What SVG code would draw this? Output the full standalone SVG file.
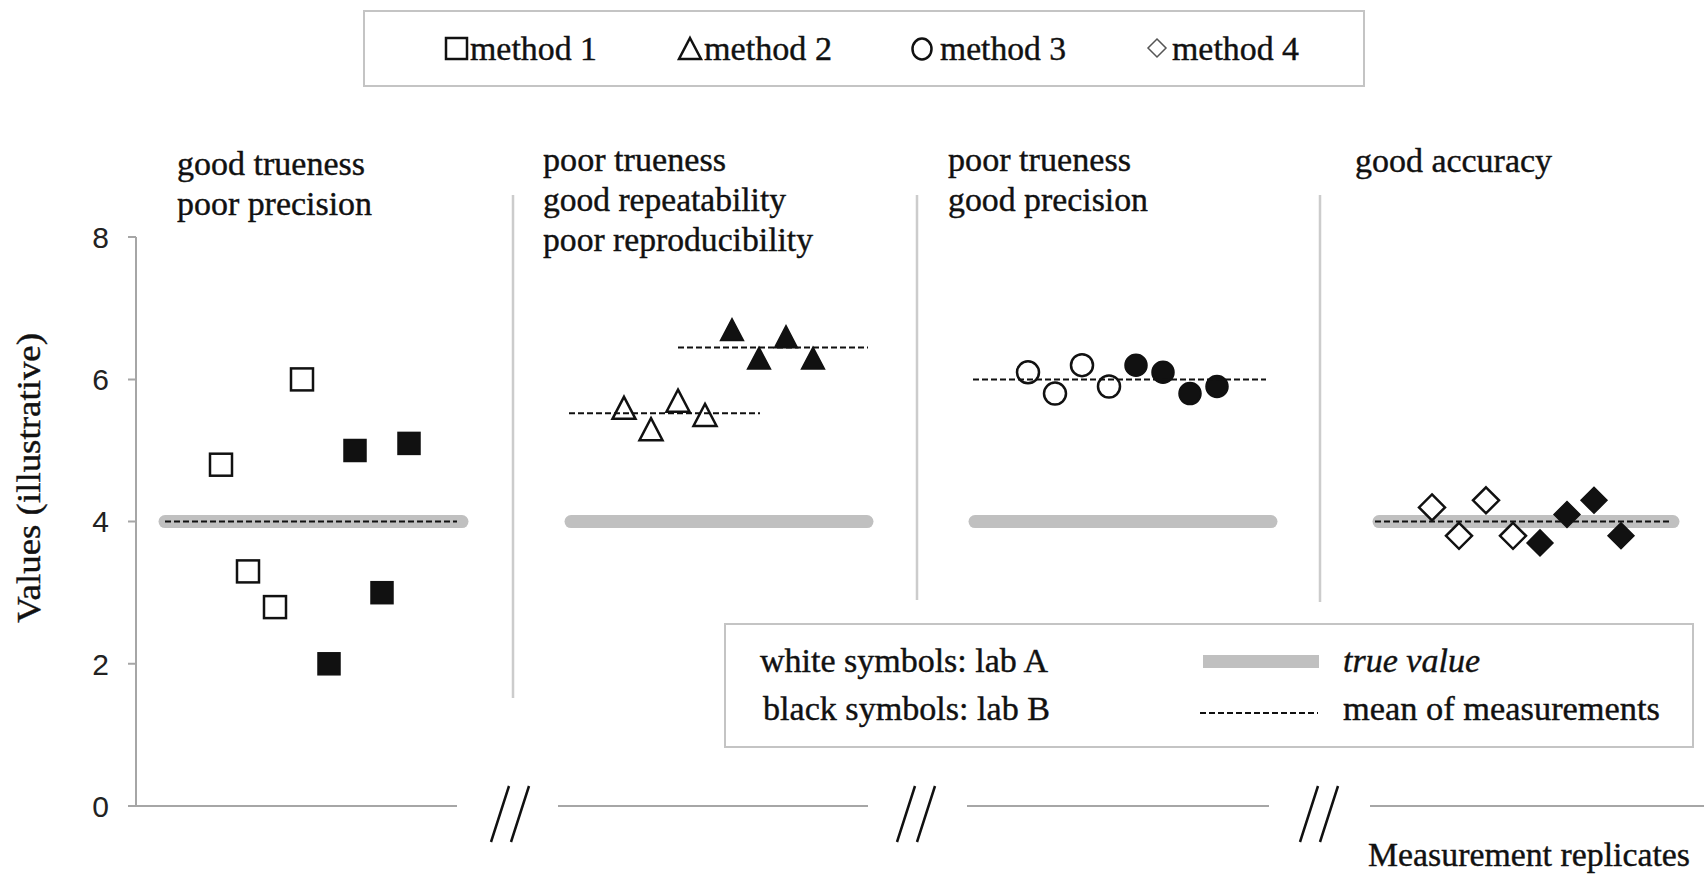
<svg xmlns="http://www.w3.org/2000/svg" width="1708" height="876" viewBox="0 0 1708 876">
  <style>
    text { font-family: "Liberation Serif", "Times New Roman", serif; font-size: 34px; fill: #111; stroke: #111; stroke-width: 0.4; }
    .tick { font-family: "Liberation Sans", Arial, sans-serif; font-size: 30px; text-anchor: end; fill: #222; stroke: none; }
    .axis { stroke: #a6a6a6; stroke-width: 2; fill: none; }
    .sep { stroke: #cccccc; stroke-width: 2.5; fill: none; }
    .brk { stroke: #111; stroke-width: 2.5; fill: none; }
    .truth { stroke: #c0c0c0; stroke-width: 13; stroke-linecap: round; fill: none; }
    .mean { stroke: #111; stroke-width: 2; stroke-dasharray: 6 3; fill: none; }
    .labA { fill: #fff; stroke: #111; stroke-width: 2.5; }
    .labB { fill: #111; stroke: #111; stroke-width: 1.5; }
    .box { fill: #fff; stroke: #c4c4c4; stroke-width: 2; }
  </style>
  <defs>
    <rect id="sq" x="-11" y="-11" width="22" height="22"/>
    <polygon id="tri" points="0,-11 11.5,11 -11.5,11"/>
    <circle id="circ" r="11"/>
    <polygon id="dia" points="0,-13 13,0 0,13 -13,0"/>
  </defs>

  <rect width="1708" height="876" fill="#fff"/>

  <!-- method legend -->
  <g id="legend-methods">
    <rect class="box" x="364" y="11" width="1000" height="75"/>
    <rect x="446" y="38" width="21" height="21" fill="#fff" stroke="#111" stroke-width="2.5"/>
    <text x="470" y="60" textLength="127" lengthAdjust="spacingAndGlyphs">method 1</text>
    <polygon points="690,38 701,59 679,59" fill="#fff" stroke="#111" stroke-width="2.5"/>
    <text x="704" y="60" textLength="128" lengthAdjust="spacingAndGlyphs">method 2</text>
    <ellipse cx="922" cy="49" rx="9.5" ry="10.5" fill="#fff" stroke="#111" stroke-width="2.5"/>
    <text x="940" y="60" textLength="126" lengthAdjust="spacingAndGlyphs">method 3</text>
    <polygon points="1157,39 1166,48 1157,57 1148,48" fill="#fff" stroke="#555" stroke-width="1.5"/>
    <text x="1172" y="60" textLength="127" lengthAdjust="spacingAndGlyphs">method 4</text>
  </g>

  <!-- axes and scale breaks -->
  <g id="axes">
    <line class="axis" x1="136" y1="237" x2="136" y2="806"/>
    <path class="axis" d="M128 237H136M128 379.4H136M128 521.6H136M128 663.8H136"/>
    <text class="tick" x="109" y="248">8</text>
    <text class="tick" x="109" y="390">6</text>
    <text class="tick" x="109" y="532">4</text>
    <text class="tick" x="109" y="675">2</text>
    <text class="tick" x="109" y="817">0</text>
    <text transform="translate(40 478) rotate(-90)" text-anchor="middle" textLength="290" lengthAdjust="spacingAndGlyphs">Values (illustrative)</text>
    <path class="axis" d="M128 806H457M558 806H868M967 806H1269M1370 806H1704"/>
    <path class="brk" d="M491 842L509 786M511 842L529 786"/>
    <path class="brk" d="M897 842L915 786M917 842L935 786"/>
    <path class="brk" d="M1300 842L1318 786M1320 842L1338 786"/>
    <text x="1368" y="866" textLength="322" lengthAdjust="spacingAndGlyphs">Measurement replicates</text>
  </g>

  <!-- panel separators -->
  <g id="separators">
    <line class="sep" x1="513" y1="195" x2="513" y2="698"/>
    <line class="sep" x1="917" y1="195" x2="917" y2="600"/>
    <line class="sep" x1="1320" y1="195" x2="1320" y2="602"/>
  </g>

  <!-- panel 1: squares -->
  <g id="panel-1">
    <text x="177" y="175" textLength="188" lengthAdjust="spacingAndGlyphs">good trueness</text>
    <text x="177" y="215" textLength="195" lengthAdjust="spacingAndGlyphs">poor precision</text>
    <line class="truth" x1="165" y1="521.6" x2="462" y2="521.6"/>
    <use href="#sq" class="labA" x="221" y="464.7"/>
    <use href="#sq" class="labA" x="248" y="571.4"/>
    <use href="#sq" class="labA" x="275" y="607.1"/>
    <use href="#sq" class="labA" x="302" y="379.4"/>
    <use href="#sq" class="labB" x="329" y="663.8"/>
    <use href="#sq" class="labB" x="355" y="450.5"/>
    <use href="#sq" class="labB" x="382" y="592.7"/>
    <use href="#sq" class="labB" x="409" y="443.4"/>
    <line class="mean" x1="165" y1="521.6" x2="457" y2="521.6"/>
  </g>

  <!-- panel 2: triangles -->
  <g id="panel-2">
    <text x="543" y="171" textLength="183" lengthAdjust="spacingAndGlyphs">poor trueness</text>
    <text x="543" y="211" textLength="243" lengthAdjust="spacingAndGlyphs">good repeatability</text>
    <text x="543" y="251" textLength="270" lengthAdjust="spacingAndGlyphs">poor reproducibility</text>
    <line class="truth" x1="571" y1="521.6" x2="867" y2="521.6"/>
    <use href="#tri" class="labA" x="624" y="407.8"/>
    <use href="#tri" class="labA" x="651" y="429.2"/>
    <use href="#tri" class="labA" x="678" y="400.7"/>
    <use href="#tri" class="labA" x="705" y="414.9"/>
    <use href="#tri" class="labB" x="732" y="329.6"/>
    <use href="#tri" class="labB" x="759" y="358.1"/>
    <use href="#tri" class="labB" x="786" y="336.7"/>
    <use href="#tri" class="labB" x="813" y="358.1"/>
    <line class="mean" x1="569" y1="413.2" x2="760" y2="413.2"/>
    <line class="mean" x1="678" y1="347.6" x2="868" y2="347.6"/>
  </g>

  <!-- panel 3: circles -->
  <g id="panel-3">
    <text x="948" y="171" textLength="183" lengthAdjust="spacingAndGlyphs">poor trueness</text>
    <text x="948" y="211" textLength="200" lengthAdjust="spacingAndGlyphs">good precision</text>
    <line class="truth" x1="975" y1="521.6" x2="1271" y2="521.6"/>
    <use href="#circ" class="labA" x="1028" y="372.3"/>
    <use href="#circ" class="labA" x="1055" y="393.6"/>
    <use href="#circ" class="labA" x="1082" y="365.2"/>
    <use href="#circ" class="labA" x="1109" y="386.5"/>
    <use href="#circ" class="labB" x="1136" y="365.2"/>
    <use href="#circ" class="labB" x="1163" y="372.3"/>
    <use href="#circ" class="labB" x="1190" y="393.6"/>
    <use href="#circ" class="labB" x="1217" y="386.5"/>
    <line class="mean" x1="973" y1="379.4" x2="1266" y2="379.4"/>
  </g>

  <!-- panel 4: diamonds -->
  <g id="panel-4">
    <text x="1355" y="172" textLength="197" lengthAdjust="spacingAndGlyphs">good accuracy</text>
    <line class="truth" x1="1379" y1="521.6" x2="1673" y2="521.6"/>
    <use href="#dia" class="labA" x="1432" y="507.4"/>
    <use href="#dia" class="labA" x="1459" y="535.8"/>
    <use href="#dia" class="labA" x="1486" y="500.3"/>
    <use href="#dia" class="labA" x="1513" y="535.8"/>
    <use href="#dia" class="labB" x="1540" y="542.9"/>
    <use href="#dia" class="labB" x="1567" y="514.5"/>
    <use href="#dia" class="labB" x="1594" y="500.3"/>
    <use href="#dia" class="labB" x="1621" y="535.8"/>
    <line class="mean" x1="1375" y1="521.6" x2="1670" y2="521.6"/>
  </g>

  <!-- key for symbol colours and reference lines -->
  <g id="legend-key">
    <rect class="box" x="725" y="624" width="968" height="123" stroke="#b4b4b4"/>
    <text x="760" y="672" textLength="288" lengthAdjust="spacingAndGlyphs">white symbols: lab A</text>
    <text x="763" y="720" textLength="287" lengthAdjust="spacingAndGlyphs">black symbols: lab B</text>
    <rect x="1203" y="655" width="116" height="13" fill="#c0c0c0"/>
    <text x="1343" y="672" font-style="italic" textLength="137" lengthAdjust="spacingAndGlyphs">true value</text>
    <line class="mean" x1="1200" y1="713" x2="1318" y2="713"/>
    <text x="1343" y="720" textLength="317" lengthAdjust="spacingAndGlyphs">mean of measurements</text>
  </g>
</svg>
